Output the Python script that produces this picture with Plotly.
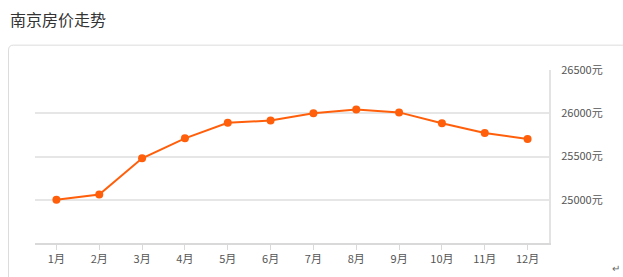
import plotly.graph_objects as go

months = ["1月", "2月", "3月", "4月", "5月", "6月", "7月", "8月", "9月", "10月", "11月", "12月"]
prices = [25000, 25060, 25480, 25710, 25890, 25915, 26000, 26043, 26010, 25884, 25772, 25702]
y_ticks = [25000, 25500, 26000, 26500]
y_tick_labels = ["25000元", "25500元", "26000元", "26500元"]
title_text = "南京房价走势"

W, H = 623, 277
L, R, T, B = 35, 549, 69.5, 243.5

def px(x):
    return (x - L) / (R - L)

def py(y):
    return (B - y) / (B - T)

FONT = "Noto Sans CJK SC, Microsoft YaHei, sans-serif"

fig = go.Figure()
fig.add_trace(go.Scatter(
    x=months, y=prices, mode="lines+markers",
    line=dict(color="#ff5f0a", width=2),
    marker=dict(color="#ff5f0a", size=8),
    hoverinfo="x+y", showlegend=False,
))

# card border with rounded top-left corner
x0, y0, x1, y1, r = 8.5, 44.5, 640, 290, 5
path = (f"M {px(x0)},{py(y1)} L {px(x0)},{py(y0 + r)} "
        f"Q {px(x0)},{py(y0)} {px(x0 + r)},{py(y0)} L {px(x1)},{py(y0)}")
fig.add_shape(type="path", path=path, xref="paper", yref="paper",
              line=dict(color="#dcdcdc", width=1), layer="below")

fig.add_annotation(text=title_text, x=px(8), y=py(18), xref="paper", yref="paper",
                   xanchor="left", yanchor="middle", showarrow=False,
                   font=dict(family=FONT, size=16, color="#333333"))
fig.add_annotation(text="↵", x=px(616), y=py(268), xref="paper", yref="paper",
                   xanchor="center", yanchor="middle", showarrow=False,
                   font=dict(family=FONT, size=10, color="#666666"))

fig.update_layout(
    width=W, height=H,
    margin=dict(l=L, r=W - R, t=T, b=H - B, pad=0),
    paper_bgcolor="white", plot_bgcolor="white",
    font=dict(family=FONT, size=11, color="#555555"),
    xaxis=dict(
        type="category", range=[-0.5, 11.5],
        showgrid=False, showline=True, linecolor="#d9d9d9", linewidth=2,
        ticks="outside", ticklen=5, tickcolor="#d9d9d9", tickwidth=1,
        tickfont=dict(size=11, color="#555555"), fixedrange=True,
    ),
    yaxis=dict(
        side="right", range=[24500, 26500],
        tickmode="array", tickvals=y_ticks, ticktext=y_tick_labels,
        showgrid=True, gridcolor="#e6e6e6", gridwidth=1.5,
        showline=True, linecolor="#e3e3e3", linewidth=2,
        zeroline=False, ticks="", ticklabelstandoff=8,
        tickfont=dict(size=11, color="#555555"), fixedrange=True,
    ),
)

fig.write_html("out.html")
